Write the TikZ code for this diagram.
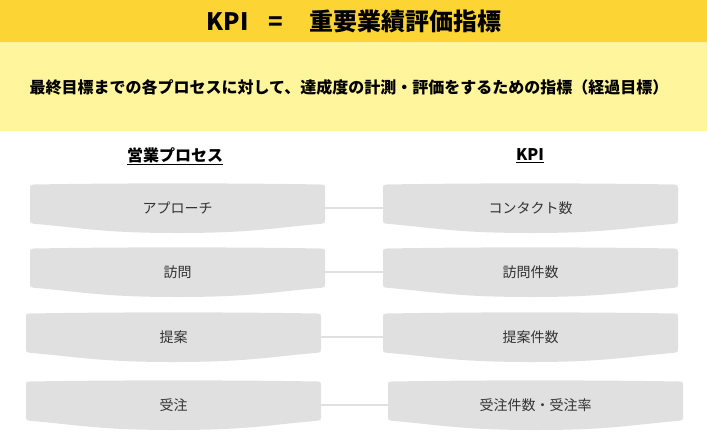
\documentclass[tikz,border=0pt]{standalone}
\usepackage{fontspec}
\setmainfont{Noto Sans CJK JP}
\definecolor{hdr}{HTML}{FCD535}
\definecolor{subband}{HTML}{FFF59D}
\definecolor{boxfill}{HTML}{E0E0E0}
\definecolor{txt}{HTML}{333333}
\tikzset{
  boxtxt/.style={inner sep=0pt, minimum height=50pt, text=txt, font=\fontsize{14}{16}\selectfont},
  conn/.style={draw=boxfill, line width=1.5pt},
  colhead/.style={font=\bfseries\fontsize{16}{18}\selectfont, text=black},
}
\newcommand\kbox[5]{%
  \pgfmathsetmacro\kW{#4-#2}%
  \pgfmathsetmacro\kM{(#2+#4)/2}%
  \pgfmathsetmacro\kS{#3+40}%
  \pgfmathsetmacro\kP{#3+50}%
  \fill[boxfill] (#2,#3+5) .. controls (#2,#3+2) .. (#2+4,#3+1.5)
    .. controls (#2+0.3*\kW,#3) and (#4-0.3*\kW,#3) .. (#4-4,#3+1.5)
    .. controls (#4,#3+2) .. (#4,#3+5)
    -- (#4,\kS-3) .. controls (#4,\kS) .. (#4-4,\kS+0.8)
    .. controls (#4-0.18*\kW,\kS+5) and (\kM+0.25*\kW,\kP) .. (\kM,\kP)
    .. controls (\kM-0.25*\kW,\kP) and (#2+0.18*\kW,\kS+5) .. (#2+4,\kS+0.8)
    .. controls (#2,\kS) .. (#2,\kS-3) -- cycle;
  \node[boxtxt, minimum width=\kW pt] (#1) at (\kM,#3+25) {#5};
}
\begin{document}
\begin{tikzpicture}[x=1pt,y=-1pt]
\useasboundingbox (0,0) rectangle (707,432);
\fill[hdr] (0,0) rectangle (707,42);
\fill[subband] (0,42) rectangle (707,131);
\node[font=\bfseries\fontsize{24}{28}\selectfont] (title) at (354,21) {KPI\hspace{0.8em}=\hspace{1.1em}重要業績評価指標};
\node[font=\bfseries\fontsize{16}{18}\selectfont] (subtitle) at (349,87) {最終目標までの各プロセスに対して、達成度の計測・評価をするための指標（経過目標）};
\node[colhead] (hproc) at (175,156) {\underline{営業プロセス}};
\node[colhead] (hkpi) at (530,156) {\underline{KPI}};
\kbox{p1}{30}{183}{325}{アプローチ}
\kbox{p2}{30}{247}{325}{訪問}
\kbox{p3}{26}{312}{321}{提案}
\kbox{p4}{26}{380}{321}{受注}
\kbox{k1}{383}{183}{678}{コンタクト数}
\kbox{k2}{383}{247}{678}{訪問件数}
\kbox{k3}{383}{312}{678}{提案件数}
\kbox{k4}{388}{380}{683}{受注件数・受注率}
\draw[conn] (p1.east) -- (k1.west);
\draw[conn] (p2.east) -- (k2.west);
\draw[conn] (p3.east) -- (k3.west);
\draw[conn] (p4.east) -- (k4.west);
\end{tikzpicture}
\end{document}
